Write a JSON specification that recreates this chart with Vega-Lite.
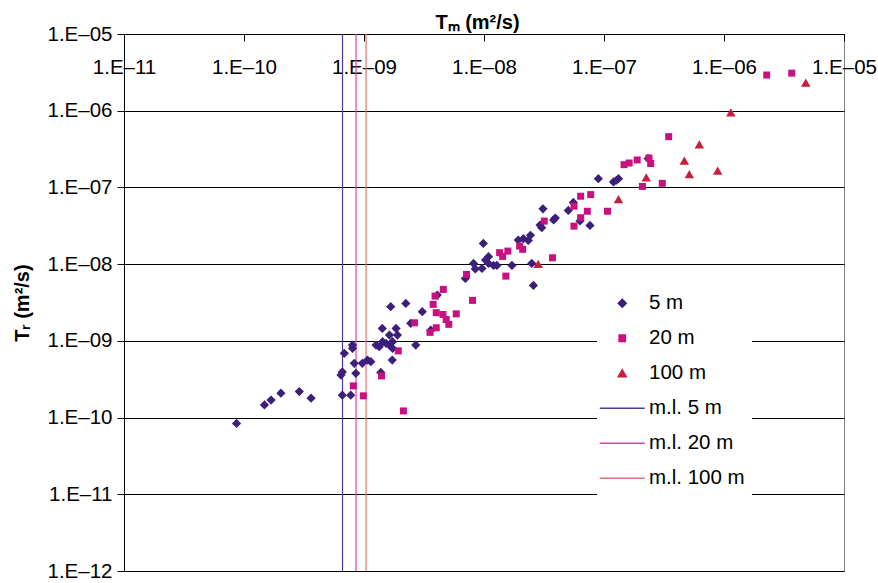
{
  "$schema": "https://vega.github.io/schema/vega-lite/v6.json",
  "width": 720,
  "height": 537,
  "autosize": {"type": "none"},
  "padding": {"left": 124, "top": 34, "right": 34, "bottom": 12},
  "background": "white",
  "config": {
    "font": "Liberation Sans",
    "view": {"stroke": "#808080", "strokeWidth": 1}
  },
  "datasets": {
    "limits": [
      {"tm": 6.62e-10, "series": "m.l. 5 m"},
      {"tm": 8.58e-10, "series": "m.l. 20 m"},
      {"tm": 1.04e-9, "series": "m.l. 100 m"}
    ],
    "obs": [
      {"tm": 8.66e-11, "tr": 8.40e-11, "series": "5 m"},
      {"tm": 1.48e-10, "tr": 1.46e-10, "series": "5 m"},
      {"tm": 1.68e-10, "tr": 1.69e-10, "series": "5 m"},
      {"tm": 2.03e-10, "tr": 2.08e-10, "series": "5 m"},
      {"tm": 2.89e-10, "tr": 2.18e-10, "series": "5 m"},
      {"tm": 3.62e-10, "tr": 1.79e-10, "series": "5 m"},
      {"tm": 6.60e-10, "tr": 1.96e-10, "series": "5 m"},
      {"tm": 7.75e-10, "tr": 1.96e-10, "series": "5 m"},
      {"tm": 6.43e-10, "tr": 3.58e-10, "series": "5 m"},
      {"tm": 6.60e-10, "tr": 3.94e-10, "series": "5 m"},
      {"tm": 6.85e-10, "tr": 6.87e-10, "series": "5 m"},
      {"tm": 8.02e-10, "tr": 8.81e-10, "series": "5 m"},
      {"tm": 8.02e-10, "tr": 7.98e-10, "series": "5 m"},
      {"tm": 8.30e-10, "tr": 5.09e-10, "series": "5 m"},
      {"tm": 8.55e-10, "tr": 3.77e-10, "series": "5 m"},
      {"tm": 9.68e-10, "tr": 5.09e-10, "series": "5 m"},
      {"tm": 1.07e-9, "tr": 5.62e-10, "series": "5 m"},
      {"tm": 1.14e-9, "tr": 5.35e-10, "series": "5 m"},
      {"tm": 1.38e-9, "tr": 3.88e-10, "series": "5 m"},
      {"tm": 1.26e-9, "tr": 8.81e-10, "series": "5 m"},
      {"tm": 1.34e-9, "tr": 8.39e-10, "series": "5 m"},
      {"tm": 1.43e-9, "tr": 9.75e-10, "series": "5 m"},
      {"tm": 1.53e-9, "tr": 9.27e-10, "series": "5 m"},
      {"tm": 1.63e-9, "tr": 8.81e-10, "series": "5 m"},
      {"tm": 1.73e-9, "tr": 9.75e-10, "series": "5 m"},
      {"tm": 1.73e-9, "tr": 7.98e-10, "series": "5 m"},
      {"tm": 1.63e-9, "tr": 1.19e-9, "series": "5 m"},
      {"tm": 1.85e-9, "tr": 1.45e-9, "series": "5 m"},
      {"tm": 1.90e-9, "tr": 1.19e-9, "series": "5 m"},
      {"tm": 1.42e-9, "tr": 1.45e-9, "series": "5 m"},
      {"tm": 1.72e-9, "tr": 5.62e-10, "series": "5 m"},
      {"tm": 1.67e-9, "tr": 2.79e-9, "series": "5 m"},
      {"tm": 2.23e-9, "tr": 3.08e-9, "series": "5 m"},
      {"tm": 2.70e-9, "tr": 8.81e-10, "series": "5 m"},
      {"tm": 3.06e-9, "tr": 2.40e-9, "series": "5 m"},
      {"tm": 2.45e-9, "tr": 1.69e-9, "series": "5 m"},
      {"tm": 3.60e-9, "tr": 1.38e-9, "series": "5 m"},
      {"tm": 4.08e-9, "tr": 3.95e-9, "series": "5 m"},
      {"tm": 6.99e-9, "tr": 6.52e-9, "series": "5 m"},
      {"tm": 8.18e-9, "tr": 1.02e-8, "series": "5 m"},
      {"tm": 8.46e-9, "tr": 8.66e-9, "series": "5 m"},
      {"tm": 9.62e-9, "tr": 8.79e-9, "series": "5 m"},
      {"tm": 9.87e-9, "tr": 1.86e-8, "series": "5 m"},
      {"tm": 1.03e-8, "tr": 1.13e-8, "series": "5 m"},
      {"tm": 1.09e-8, "tr": 1.25e-8, "series": "5 m"},
      {"tm": 1.09e-8, "tr": 1.02e-8, "series": "5 m"},
      {"tm": 1.20e-8, "tr": 9.62e-9, "series": "5 m"},
      {"tm": 1.28e-8, "tr": 9.62e-9, "series": "5 m"},
      {"tm": 1.71e-8, "tr": 9.62e-9, "series": "5 m"},
      {"tm": 1.93e-8, "tr": 2.06e-8, "series": "5 m"},
      {"tm": 2.13e-8, "tr": 2.15e-8, "series": "5 m"},
      {"tm": 2.34e-8, "tr": 2.04e-8, "series": "5 m"},
      {"tm": 2.44e-8, "tr": 2.38e-8, "series": "5 m"},
      {"tm": 2.50e-8, "tr": 1.02e-8, "series": "5 m"},
      {"tm": 2.58e-8, "tr": 5.28e-9, "series": "5 m"},
      {"tm": 3.10e-8, "tr": 5.27e-8, "series": "5 m"},
      {"tm": 2.93e-8, "tr": 3.23e-8, "series": "5 m"},
      {"tm": 3.03e-8, "tr": 2.98e-8, "series": "5 m"},
      {"tm": 3.80e-8, "tr": 3.77e-8, "series": "5 m"},
      {"tm": 3.93e-8, "tr": 3.98e-8, "series": "5 m"},
      {"tm": 5.04e-8, "tr": 5.01e-8, "series": "5 m"},
      {"tm": 5.55e-8, "tr": 6.37e-8, "series": "5 m"},
      {"tm": 6.31e-8, "tr": 3.66e-8, "series": "5 m"},
      {"tm": 7.64e-8, "tr": 3.20e-8, "series": "5 m"},
      {"tm": 8.97e-8, "tr": 1.30e-7, "series": "5 m"},
      {"tm": 1.20e-7, "tr": 1.18e-7, "series": "5 m"},
      {"tm": 1.27e-7, "tr": 1.24e-7, "series": "5 m"},
      {"tm": 1.32e-7, "tr": 1.30e-7, "series": "5 m"},
      {"tm": 2.33e-7, "tr": 2.39e-7, "series": "5 m"},
      {"tm": 8.14e-10, "tr": 2.59e-10, "series": "20 m"},
      {"tm": 9.87e-10, "tr": 1.92e-10, "series": "20 m"},
      {"tm": 1.40e-9, "tr": 3.49e-10, "series": "20 m"},
      {"tm": 1.93e-9, "tr": 7.40e-10, "series": "20 m"},
      {"tm": 2.13e-9, "tr": 1.22e-10, "series": "20 m"},
      {"tm": 2.64e-9, "tr": 1.72e-9, "series": "20 m"},
      {"tm": 3.55e-9, "tr": 1.29e-9, "series": "20 m"},
      {"tm": 4.00e-9, "tr": 1.48e-9, "series": "20 m"},
      {"tm": 3.77e-9, "tr": 2.99e-9, "series": "20 m"},
      {"tm": 3.91e-9, "tr": 3.83e-9, "series": "20 m"},
      {"tm": 4.00e-9, "tr": 2.33e-9, "series": "20 m"},
      {"tm": 4.58e-9, "tr": 4.68e-9, "series": "20 m"},
      {"tm": 4.55e-9, "tr": 2.21e-9, "series": "20 m"},
      {"tm": 4.84e-9, "tr": 1.90e-9, "series": "20 m"},
      {"tm": 5.09e-9, "tr": 1.64e-9, "series": "20 m"},
      {"tm": 5.87e-9, "tr": 2.25e-9, "series": "20 m"},
      {"tm": 7.15e-9, "tr": 7.35e-9, "series": "20 m"},
      {"tm": 8.02e-9, "tr": 3.37e-9, "series": "20 m"},
      {"tm": 1.35e-8, "tr": 1.41e-8, "series": "20 m"},
      {"tm": 1.43e-8, "tr": 1.26e-8, "series": "20 m"},
      {"tm": 1.58e-8, "tr": 1.48e-8, "series": "20 m"},
      {"tm": 1.52e-8, "tr": 6.98e-9, "series": "20 m"},
      {"tm": 1.98e-8, "tr": 1.72e-8, "series": "20 m"},
      {"tm": 2.10e-8, "tr": 1.56e-8, "series": "20 m"},
      {"tm": 3.18e-8, "tr": 3.64e-8, "series": "20 m"},
      {"tm": 3.72e-8, "tr": 1.21e-8, "series": "20 m"},
      {"tm": 5.62e-8, "tr": 5.70e-8, "series": "20 m"},
      {"tm": 6.39e-8, "tr": 7.68e-8, "series": "20 m"},
      {"tm": 5.62e-8, "tr": 3.13e-8, "series": "20 m"},
      {"tm": 6.39e-8, "tr": 4.03e-8, "series": "20 m"},
      {"tm": 7.26e-8, "tr": 4.89e-8, "series": "20 m"},
      {"tm": 7.75e-8, "tr": 8.05e-8, "series": "20 m"},
      {"tm": 1.07e-7, "tr": 4.89e-8, "series": "20 m"},
      {"tm": 1.47e-7, "tr": 1.98e-7, "series": "20 m"},
      {"tm": 1.62e-7, "tr": 2.08e-7, "series": "20 m"},
      {"tm": 1.89e-7, "tr": 2.28e-7, "series": "20 m"},
      {"tm": 2.37e-7, "tr": 2.42e-7, "series": "20 m"},
      {"tm": 2.45e-7, "tr": 2.05e-7, "series": "20 m"},
      {"tm": 2.09e-7, "tr": 1.03e-7, "series": "20 m"},
      {"tm": 3.06e-7, "tr": 1.13e-7, "series": "20 m"},
      {"tm": 3.46e-7, "tr": 4.59e-7, "series": "20 m"},
      {"tm": 2.27e-6, "tr": 2.92e-6, "series": "20 m"},
      {"tm": 3.67e-6, "tr": 3.09e-6, "series": "20 m"},
      {"tm": 2.83e-8, "tr": 1.01e-8, "series": "100 m"},
      {"tm": 1.32e-7, "tr": 7.04e-8, "series": "100 m"},
      {"tm": 2.25e-7, "tr": 1.35e-7, "series": "100 m"},
      {"tm": 4.67e-7, "tr": 2.23e-7, "series": "100 m"},
      {"tm": 5.14e-7, "tr": 1.49e-7, "series": "100 m"},
      {"tm": 6.23e-7, "tr": 3.63e-7, "series": "100 m"},
      {"tm": 8.86e-7, "tr": 1.66e-7, "series": "100 m"},
      {"tm": 1.14e-6, "tr": 9.49e-7, "series": "100 m"},
      {"tm": 4.80e-6, "tr": 2.33e-6, "series": "100 m"}
    ]
  },
  "encoding": {
    "x": {
      "field": "tm",
      "type": "quantitative",
      "scale": {"type": "log", "domain": [1e-11, 1e-5], "nice": false},
      "axis": {
        "orient": "top",
        "title": "Tₘ (m²/s)",
        "values": [1e-11, 1e-10, 1e-9, 1e-8, 1e-7, 1e-6, 1e-5],
        "labelExpr": "'1.E–' + (round(-log(datum.value) / LN10) < 10 ? '0' : '') + round(-log(datum.value) / LN10)",
        "grid": false,
        "domainColor": "black",
        "tickColor": "black",
        "tickSize": -7,
        "labelPadding": -32,
        "labelBaseline": "alphabetic",
        "labelFlush": false,
        "labelOverlap": false,
        "labelFontSize": 20.5,
        "labelColor": "black",
        "titleFontSize": 20,
        "titleFontWeight": "bold",
        "titleColor": "black",
        "titleX": 353,
        "titleY": -6,
        "titleBaseline": "alphabetic"
      }
    },
    "color": {
      "field": "series",
      "type": "nominal",
      "scale": {
        "domain": ["5 m", "20 m", "100 m", "m.l. 5 m", "m.l. 20 m", "m.l. 100 m"],
        "range": ["#3C1F7B", "#C8107E", "#C81E3C", "#4B3C9E", "#E040A8", "#E0707A"]
      },
      "legend": {
        "orient": "none",
        "legendX": 473,
        "legendY": 252,
        "title": null,
        "symbolSize": 1024,
        "symbolStrokeWidth": 1.5,
        "symbolOffset": 8,
        "rowPadding": 14,
        "labelOffset": 16.5,
        "labelFontSize": 20.5,
        "labelColor": "black",
        "padding": 7,
        "fillColor": "white",
        "symbolOpacity": 1,
        "encode": {
          "symbols": {
            "update": {
              "size": {"signal": "datum.index >= 3 ? 2025 : (datum.index == 1 ? 40 : 64)"},
              "fill": {"signal": "datum.index >= 3 ? 'transparent' : scale('color', datum.value)"},
              "stroke": {"signal": "datum.index >= 3 ? scale('color', datum.value) : 'transparent'"},
              "strokeWidth": {"value": 1.5},
              "opacity": {"value": 1}
            }
          }
        }
      }
    },
    "shape": {
      "field": "series",
      "type": "nominal",
      "scale": {
        "domain": ["5 m", "20 m", "100 m", "m.l. 5 m", "m.l. 20 m", "m.l. 100 m"],
        "range": ["diamond", "square", "triangle-up", "stroke", "stroke", "stroke"]
      }
    }
  },
  "layer": [
    {
      "data": {"name": "limits"},
      "mark": {"type": "rule", "strokeWidth": 1.2},
      "encoding": {"shape": null}
    },
    {
      "data": {"name": "obs"},
      "transform": [{"filter": "datum.series === '5 m'"}],
      "mark": {"type": "point", "filled": true, "opacity": 1, "size": 85},
      "encoding": {
        "y": {
          "field": "tr",
          "type": "quantitative",
          "scale": {"type": "log", "domain": [1e-12, 1e-5], "nice": false},
          "axis": {
            "title": "Tᵣ (m²/s)",
            "values": [1e-12, 1e-11, 1e-10, 1e-9, 1e-8, 1e-7, 1e-6, 1e-5],
            "labelExpr": "'1.E–' + (round(-log(datum.value) / LN10) < 10 ? '0' : '') + round(-log(datum.value) / LN10)",
            "grid": true,
            "gridColor": "black",
            "gridWidth": 1,
            "gridOpacity": 1,
            "domainColor": "black",
            "tickColor": "black",
            "tickSize": 7,
            "labelPadding": 5,
            "labelOverlap": false,
            "labelFlush": false,
            "labelFontSize": 20.5,
            "labelColor": "black",
            "titleFontSize": 20,
            "titleFontWeight": "bold",
            "titleColor": "black",
            "titleX": -96,
            "titleBaseline": "alphabetic"
          }
        }
      }
    },
    {
      "data": {"name": "obs"},
      "transform": [{"filter": "datum.series === '20 m'"}],
      "mark": {"type": "point", "filled": true, "opacity": 1, "size": 49},
      "encoding": {
        "y": {"field": "tr", "type": "quantitative", "scale": {"type": "log", "domain": [1e-12, 1e-5], "nice": false}}
      }
    },
    {
      "data": {"name": "obs"},
      "transform": [{"filter": "datum.series === '100 m'"}],
      "mark": {"type": "point", "filled": true, "opacity": 1, "size": 90},
      "encoding": {
        "y": {"field": "tr", "type": "quantitative", "scale": {"type": "log", "domain": [1e-12, 1e-5], "nice": false}}
      }
    }
  ]
}
